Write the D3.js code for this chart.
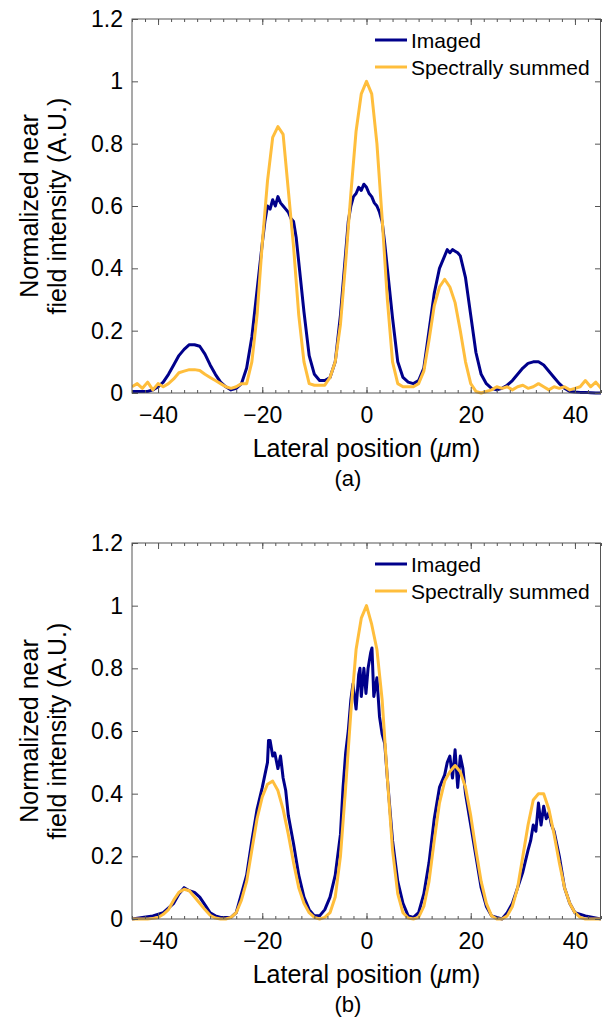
<!DOCTYPE html>
<html><head><meta charset="utf-8">
<script src="https://cdn.jsdelivr.net/npm/d3@7"></script>
<style>body{margin:0;background:#fff}svg{display:block}text{font-family:Arial,"Liberation Sans",sans-serif;fill:#000}</style>
</head><body>
<script>
// ---------- data ----------
const xTickValues = [-40, -20, 0, 20, 40];
const yTickValues = [0, 0.2, 0.4, 0.6, 0.8, 1, 1.2];
const yTickLabels = ["0", "0.2", "0.4", "0.6", "0.8", "1", "1.2"];
const seriesNames = ["Imaged", "Spectrally summed"];
const panelLabels = ["(a)", "(b)"];

// panel (a) spectrally summed
const aSumX = [-45,-44,-43,-42,-41,-40,-39,-38,-37,-36,-35,-34,-33,-32,-31,-30,-29,-28,-27,-26,-25,-24,-23,-22,-21,-20,-19,-18,-17,-16,-15,-14,-13,-12,-11,-10,-9,-8,-7,-6,-5,-4,-3,-2,-1,0,1,2,3,4,5,6,7,8,9,10,11,12,13,14,15,16,17,18,19,20,21,22,23,24,25,26,27,28,29,30,31,32,33,34,35,36,37,38,39,40,41,42,43,44,45];
const aSumY = [.02,.03,.015,.035,.01,.03,.02,.03,.045,.065,.07,.075,.075,.072,.06,.05,.04,.03,.02,.015,.02,.03,.03,.1,.25,.48,.68,.82,.855,.83,.65,.47,.25,.1,.03,.025,.025,.025,.05,.1,.22,.42,.64,.84,.96,1.0,.96,.8,.56,.3,.1,.03,.02,.02,.02,.03,.07,.17,.28,.34,.365,.34,.29,.2,.1,.03,.005,0,.005,.01,.02,.015,.02,.01,.02,.025,.015,.02,.03,.02,.01,.02,.015,.02,.01,.015,.02,.04,.02,.035,.015];
// panel (a) imaged
const aImgX = [-45,-44,-43,-42,-41,-40,-39,-38,-37,-36,-35,-34,-33,-32,-31,-30,-29,-28,-27,-26,-25,-24,-23,-22,-21,-20,-19.5,-19,-18.5,-18,-17.5,-17,-16.5,-16,-15.5,-15,-14.5,-14,-13.5,-13,-12,-11,-10,-9,-8,-7,-6,-5,-4,-3.5,-3,-2.5,-2,-1.5,-1,-0.5,0,0.5,1,1.5,2,2.5,3,3.5,4,5,6,7,8,9,10,11,12,13,14,15,15.5,16,16.5,17,17.5,18,19,20,21,22,23,24,25,26,27,28,29,30,31,32,33,34,35,36,37,38,39,40,41,42,43,44,45];
const aImgY = [.005,.005,.005,.005,.01,.02,.035,.06,.09,.12,.14,.155,.155,.15,.125,.09,.06,.035,.02,.01,.015,.03,.08,.18,.33,.48,.55,.6,.59,.62,.6,.63,.61,.6,.59,.58,.56,.55,.5,.42,.26,.12,.06,.04,.04,.05,.1,.25,.45,.55,.6,.63,.64,.66,.65,.67,.66,.64,.63,.61,.6,.58,.55,.48,.4,.24,.1,.05,.035,.03,.04,.08,.2,.32,.4,.44,.46,.45,.46,.455,.45,.44,.37,.25,.13,.06,.03,.015,.01,.015,.025,.04,.06,.08,.095,.1,.1,.09,.07,.05,.03,.015,.005,.003,.002,.002,.001,0,0];

// panel (b) spectrally summed
const bSumX = [-45,-44,-43,-42,-41,-40,-39,-38,-37,-36,-35,-34,-33,-32,-31,-30,-29,-28,-27,-26,-25,-24,-23,-22,-21,-20,-19,-18,-17,-16,-15,-14,-13,-12,-11,-10,-9,-8,-7,-6,-5,-4,-3,-2,-1,0,1,2,3,4,5,6,7,8,9,10,11,12,13,14,15,16,17,18,19,20,21,22,23,24,25,26,27,28,29,30,31,32,33,34,35,36,37,38,39,40,41,42,43,44,45];
const bSumY = [0,0,0,0,.002,.005,.015,.03,.06,.085,.095,.09,.07,.05,.03,.012,.003,0,0,.005,.02,.06,.12,.22,.32,.39,.43,.44,.41,.35,.27,.18,.1,.05,.02,.005,0,.005,.02,.07,.2,.42,.66,.86,.96,1.0,.94,.86,.7,.45,.22,.08,.02,.003,0,.005,.04,.12,.25,.37,.44,.47,.49,.47,.42,.33,.22,.12,.05,.01,0,0,.01,.04,.1,.2,.3,.38,.4,.4,.35,.27,.18,.1,.05,.02,.005,0,0,0,0];
// panel (b) imaged
const bImgX = [-45,-43,-41,-39,-37,-36,-35,-34,-33,-32,-31,-30,-29,-28,-26,-25,-24,-23,-22,-21,-20,-19.5,-19,-18.8,-18.5,-18,-17.6,-17,-16.5,-16,-15.5,-15,-14,-13,-12,-11,-10,-9,-8,-7,-6,-5,-4.5,-4,-3.5,-3,-2.6,-2,-1.5,-1.25,-1,-0.5,-0.1,0.3,0.8,1.05,1.4,2,2.5,3,3.5,4,5,6,7,8,9,10,11,12,13,14,15,15.5,16,16.5,17,17.5,18,18.5,19,20,21,22,23,24,25,26,27,28,29,30,31,31.5,32,32.5,33,33.5,34,34.5,35,35.5,36,37,38,39,40,42,45];
const bImgY = [0,.005,.01,.02,.05,.08,.1,.09,.085,.07,.045,.02,.01,.005,.005,.02,.08,.14,.25,.35,.42,.46,.5,.57,.57,.52,.53,.48,.52,.45,.41,.33,.24,.14,.07,.03,.01,.01,.03,.07,.14,.27,.42,.53,.6,.7,.75,.67,.78,.8,.71,.8,.72,.8,.85,.865,.71,.77,.645,.59,.56,.45,.25,.12,.05,.01,.005,.02,.08,.18,.32,.42,.46,.5,.52,.45,.54,.42,.52,.48,.4,.3,.2,.1,.04,.01,.005,0,.02,.05,.1,.15,.22,.25,.3,.28,.37,.3,.36,.32,.34,.3,.28,.2,.1,.05,.02,.01,0];

// ---------- drawing ----------
const W = 602, H = 1018;
const colImg = "#00008B", colSum = "#FFBE3C";
const svg = d3.select("body").append("svg").attr("width", W).attr("height", H);

const panels = [
  {top: 19, bottom: 393, img: [aImgX, aImgY], sum: [aSumX, aSumY], label: panelLabels[0]},
  {top: 543, bottom: 919, img: [bImgX, bImgY], sum: [bSumX, bSumY], label: panelLabels[1]}
];
const left = 132, right = 601;
const minorX = d3.range(-45, 45.01, 2.5);

panels.forEach(p => {
  const x = d3.scaleLinear().domain([-45, 45]).range([left, right]);
  const y = d3.scaleLinear().domain([0, 1.2]).range([p.bottom, p.top]);
  const g = svg.append("g");

  const line = d3.line().x(d => x(d[0])).y(d => y(d[1]));
  const clipId = "clip" + p.top;
  svg.append("clipPath").attr("id", clipId).append("rect")
    .attr("x", left).attr("y", p.top - 2).attr("width", right - left).attr("height", p.bottom - p.top + 4);

  const curves = g.append("g").attr("clip-path", `url(#${clipId})`);
  curves.append("path").datum(d3.zip(p.img[0], p.img[1])).attr("d", line)
    .attr("fill", "none").attr("stroke", colImg).attr("stroke-width", 3).attr("stroke-linejoin", "round");
  curves.append("path").datum(d3.zip(p.sum[0], p.sum[1])).attr("d", line)
    .attr("fill", "none").attr("stroke", colSum).attr("stroke-width", 3).attr("stroke-linejoin", "round");

  // axes (inward ticks, box)
  const axCol = "#555";
  const styleAxis = sel => { sel.select(".domain").remove(); sel.selectAll("line").attr("stroke", axCol); };
  g.append("g").attr("transform", `translate(0,${p.bottom})`)
    .call(d3.axisBottom(x).tickValues(minorX).tickSize(-3).tickFormat(""))
    .call(styleAxis);
  g.append("g").attr("transform", `translate(0,${p.top})`)
    .call(d3.axisTop(x).tickValues(minorX).tickSize(-3).tickFormat(""))
    .call(styleAxis);
  g.append("g").attr("transform", `translate(0,${p.bottom})`)
    .call(d3.axisBottom(x).tickValues(xTickValues).tickSize(-6).tickPadding(14))
    .call(styleAxis)
    .selectAll("text").attr("font-size", 23).attr("font-family", "Arial, 'Liberation Sans', sans-serif").attr("fill", "#000");
  g.append("g").attr("transform", `translate(0,${p.top})`)
    .call(d3.axisTop(x).tickValues(xTickValues).tickSize(-6).tickFormat(""))
    .call(styleAxis);
  g.append("g").attr("transform", `translate(${left},0)`)
    .call(d3.axisLeft(y).tickValues(yTickValues).tickSize(-6).tickPadding(9).tickFormat((d, i) => yTickLabels[i]))
    .call(styleAxis)
    .selectAll("text").attr("font-size", 23).attr("font-family", "Arial, 'Liberation Sans', sans-serif").attr("fill", "#000");
  g.append("g").attr("transform", `translate(${right},0)`)
    .call(d3.axisRight(y).tickValues(yTickValues).tickSize(-6).tickFormat(""))
    .call(styleAxis);
  g.append("rect").attr("x", left).attr("y", p.top).attr("width", right - left - 0.5).attr("height", p.bottom - p.top)
    .attr("fill", "none").attr("stroke", axCol).attr("stroke-width", 1);

  // legend
  const lg = g.append("g");
  [[colImg, seriesNames[0], 21], [colSum, seriesNames[1], 48]].forEach(([c, t, dy]) => {
    lg.append("line").attr("x1", 375).attr("x2", 407).attr("y1", p.top + dy).attr("y2", p.top + dy)
      .attr("stroke", c).attr("stroke-width", 3);
    lg.append("text").attr("x", 411).attr("y", p.top + dy + 7.5).attr("font-size", 21).text(t);
  });

  // axis titles
  const xt = g.append("text").attr("x", (left + right) / 2).attr("y", p.bottom + 64).attr("text-anchor", "middle")
    .attr("font-size", 25);
  xt.append("tspan").text("Lateral position (");
  xt.append("tspan").attr("font-style", "italic").text("\u03BC");
  xt.append("tspan").text("m)");
  const cy = (p.top + p.bottom) / 2;
  g.append("text").attr("transform", `translate(38,${cy}) rotate(-90)`).attr("text-anchor", "middle")
    .attr("font-size", 25).text("Normalized near");
  g.append("text").attr("transform", `translate(66,${cy}) rotate(-90)`).attr("text-anchor", "middle")
    .attr("font-size", 25).text("field intensity (A.U.)");
  g.append("text").attr("x", 348).attr("y", p.bottom + 93).attr("text-anchor", "middle")
    .attr("font-size", 22).text(p.label);
});
</script>
</body></html>
